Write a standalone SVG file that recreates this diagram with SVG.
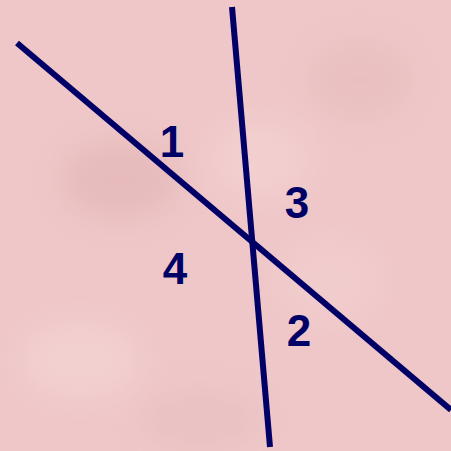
<svg xmlns="http://www.w3.org/2000/svg" width="451" height="451" viewBox="0 0 451 451">
<style>
.ln{stroke:#000066;stroke-width:6;stroke-linecap:butt;fill:none}
.lb{font-family:"Liberation Sans",Arial,sans-serif;font-weight:bold;font-size:44px;fill:#000066;text-anchor:middle}
</style>
<defs>
<filter id="blur" x="-20%" y="-20%" width="140%" height="140%"><feGaussianBlur stdDeviation="14"/></filter>
</defs>
<rect width="451" height="451" fill="#efc7c8"/>
<g filter="url(#blur)" opacity="0.5">
<ellipse cx="120" cy="180" rx="60" ry="40" fill="#e0b0b2"/>
<ellipse cx="260" cy="160" rx="50" ry="40" fill="#f6d6d7"/>
<ellipse cx="80" cy="360" rx="60" ry="40" fill="#f6d8d8"/>
<ellipse cx="360" cy="80" rx="50" ry="40" fill="#e5b9ba"/>
<ellipse cx="330" cy="280" rx="50" ry="40" fill="#f4d2d3"/>
<ellipse cx="200" cy="420" rx="60" ry="30" fill="#e6bcbd"/>
</g>
<g id="connectors">
<line class="ln" x1="17" y1="43" x2="451" y2="410"/>
<line class="ln" x1="232" y1="7" x2="270" y2="447"/>
</g>
<g id="label1"><text class="lb" x="172" y="157">1</text></g>
<g id="label3"><text class="lb" x="297" y="218">3</text></g>
<g id="label4"><text class="lb" x="175" y="284">4</text></g>
<g id="label2"><text class="lb" x="299" y="346">2</text></g>
</svg>
